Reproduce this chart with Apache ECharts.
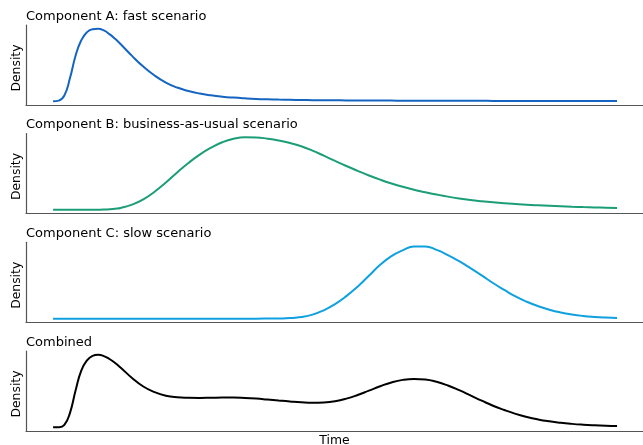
<!DOCTYPE html>
<html>
<head>
<meta charset="utf-8">
<script src="https://cdn.jsdelivr.net/npm/echarts@6/dist/echarts.min.js"></script>
<style>
html,body{margin:0;padding:0;background:#fff;}
#chart{width:643px;height:445px;}
</style>
</head>
<body>
<div id="chart"></div>
<script>
// Time grid (arbitrary units, 0..100)
const time = [0,1,2,3,4,5,6,7,8,9,10,11,12,14,16,18,20,22,24,26,28,30,32,34,36,38,40,42,44,46,48,50,52,54,56,58,60,62,64,66,68,70,72,74,76,78,80,82,84,86,88,90,92,94,96,98,100];

// Component A: fast scenario (relative density)
const compA = [0,1.0,8,32,63,84,95,99.2,99.7,97.5,92.5,86,78.5,62.5,47.8,35.5,25.8,19,14.2,10.7,8.3,6.5,5.2,4.2,3.4,2.85,2.45,2.15,1.9,1.7,1.55,1.42,1.32,1.23,1.16,1.1,1.03,0.97,0.92,0.87,0.83,0.79,0.75,0.72,0.69,0.66,0.63,0.6,0.57,0.55,0.52,0.5,0.48,0.46,0.44,0.42,0.4];

// Component B: business-as-usual scenario
const compB = [0,0,0,0,0,0,0.05,0.1,0.2,0.4,0.8,1.5,2.6,7.2,14.5,25,37.5,51.5,64.5,76,85.5,93,97.8,99.9,99.6,97.9,95.4,92,87.5,81.5,74.5,67.3,60.3,53.7,47.3,41.5,36.3,31.7,27.7,24.3,21.1,18.2,15.7,13.6,11.9,10.4,9.1,8,7,6.2,5.5,4.9,4.3,3.8,3.4,3.0,2.6];

// Component C: slow scenario
const compC = [0,0,0,0,0,0,0,0,0,0,0,0,0,0,0,0,0,0,0,0,0,0,0,0,0,0.1,0.3,0.8,2.2,5.5,11.5,20,31,44,59,74,86,94,99.3,99.2,94.5,87.5,79,69.5,59.5,49,39.5,30.5,23.2,17.2,12.3,8.5,5.7,3.7,2.4,1.5,0.9];

// Combined
const combined = [0,0.2,3.5,20,51,78,92,98.3,99.7,98,94,88.5,82,68,56.2,48.5,43.6,41.4,40.7,40.5,40.7,41,41,40.5,39.6,38.3,36.9,35.6,34.5,33.9,34.3,36,39.5,44.5,50.5,56.5,61.8,65.3,66.6,65.8,62.6,57.6,51.2,44,36.7,29.7,23.8,18.6,14.3,10.9,8.3,6.3,4.8,3.7,2.9,2.3,1.9];

const titles = ["Component A: fast scenario","Component B: business-as-usual scenario","Component C: slow scenario","Combined"];
const colors = ["#1565c0","#1b9e77","#0fa0e0","#000000"];
const seriesData = [compA, compB, compC, combined];
const yLabel = "Density";
const xLabel = "Time";

const tops = [25,133.5,242.3,351];
const panelH = 80;
const axisColor = "#555555";
const font = "DejaVu Sans";

const grids = [], xAxes = [], yAxes = [], series = [], graphics = [];
for (let i = 0; i < 4; i++) {
  grids.push({left: 26, right: 0, top: tops[i], height: panelH, containLabel: false});
  xAxes.push({
    type: 'value', gridIndex: i, min: -4.8, max: 104.6,
    axisLine: {show: true, onZero: false, lineStyle: {color: axisColor, width: 1.2}},
    axisTick: {show: false}, axisLabel: {show: false}, splitLine: {show: false}
  });
  yAxes.push({
    type: 'value', gridIndex: i, min: -5, max: 105,
    axisLine: {show: true, onZero: false, lineStyle: {color: axisColor, width: 1.2}},
    axisTick: {show: false}, axisLabel: {show: false}, splitLine: {show: false}
  });
  series.push({
    type: 'line', xAxisIndex: i, yAxisIndex: i,
    data: time.map((t, k) => [t, seriesData[i][k]]),
    showSymbol: false, smooth: 0.5,
    lineStyle: {color: colors[i], width: 2},
    silent: true, animation: false
  });
  graphics.push({
    type: 'text', x: 26, y: tops[i] - 8.5,
    style: {text: titles[i], font: '13px "' + font + '"', fill: '#000', align: 'left', verticalAlign: 'middle'}
  });
  graphics.push({
    type: 'text', x: 17, y: tops[i] + panelH / 2 + 3, rotation: Math.PI / 2,
    style: {text: yLabel, font: '12.4px "' + font + '"', fill: '#000', align: 'center', verticalAlign: 'middle'}
  });
}
graphics.push({
  type: 'text', x: 334.5, y: 440.5,
  style: {text: xLabel, font: '12.4px "' + font + '"', fill: '#000', align: 'center', verticalAlign: 'middle'}
});

const chart = echarts.init(document.getElementById('chart'), null, {renderer: 'canvas'});
chart.setOption({
  animation: false,
  backgroundColor: '#ffffff',
  grid: grids, xAxis: xAxes, yAxis: yAxes, series: series,
  graphic: graphics
});
</script>
</body>
</html>
